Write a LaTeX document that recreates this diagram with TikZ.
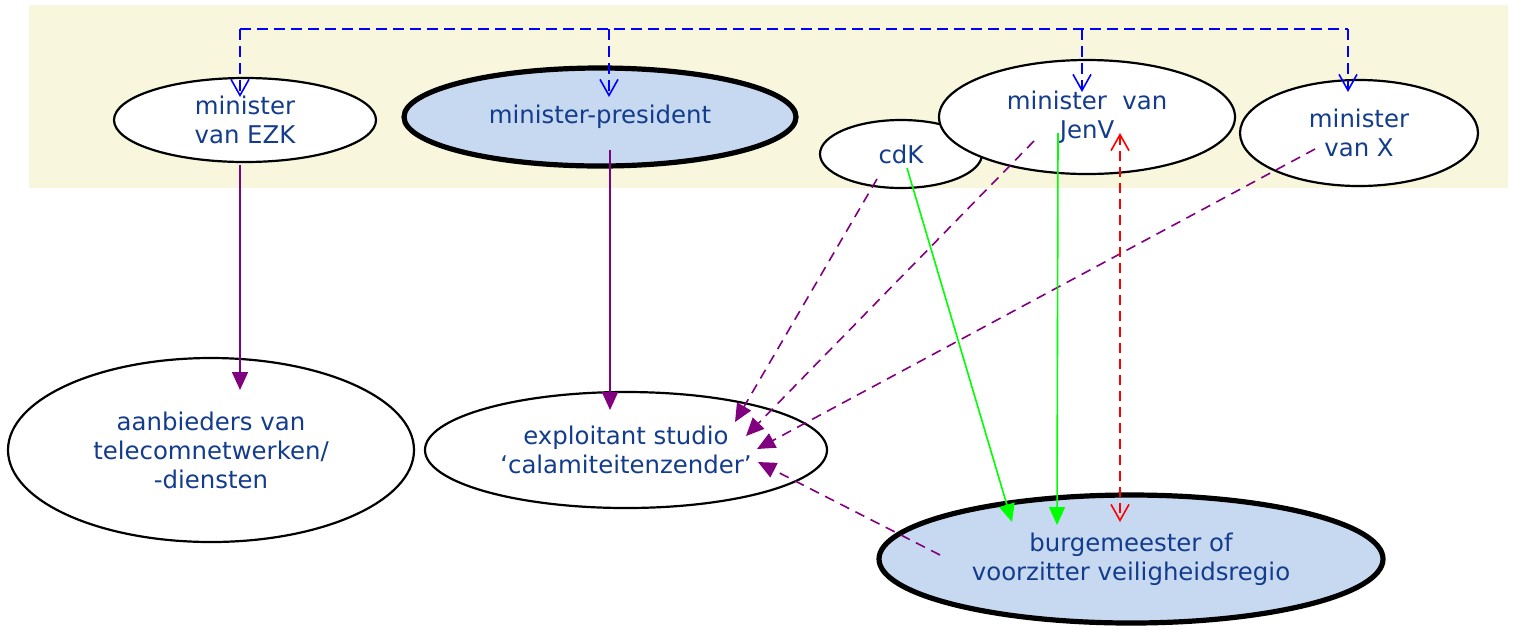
\documentclass[tikz,border=0pt]{standalone}
\usepackage{fontspec}
\setmainfont{DejaVu Sans}
\usepackage{tikz}
\usetikzlibrary{shapes.geometric, arrows.meta}
\definecolor{bandyellow}{RGB}{248,246,220}
\definecolor{boxblue}{RGB}{198,217,240}
\definecolor{textblue}{RGB}{20,60,140}
\definecolor{linepurple}{RGB}{128,0,128}
\tikzset{actor/.style = {ellipse,draw,fill=white,line width=1.1pt,inner sep=0pt,align=center,
                         text=textblue,font=\fontsize{12.2}{14.5}\selectfont},
         lead/.style = {actor,fill=boxblue,line width=2.6pt},
         inform/.style = {blue,line width=0.8pt,dash pattern=on 5.5pt off 3pt,-{Straight Barb[length=8pt,width=9pt]}},
         order/.style = {linepurple,line width=0.8pt,-{Triangle[length=9pt,width=8pt]}},
         advise/.style = {order,dash pattern=on 5pt off 3.5pt},
         support/.style = {green,line width=0.8pt,-{Triangle[length=9pt,width=8pt]}},
         consult/.style = {red,line width=0.8pt,dash pattern=on 5pt off 3pt,
                           {Straight Barb[length=8pt,width=9pt]}-{Straight Barb[length=8pt,width=9pt]}}}

\begin{document}
\begin{tikzpicture}[x=0.5pt,y=-0.5pt]
        \useasboundingbox (0,0) rectangle (1518,628);
        \fill [bandyellow] (29,5) rectangle (1508,188);
        % ministers
        \node [actor, minimum width=131pt, minimum height=42pt] (ezk) at (245,120) {minister\\van EZK};
        \node [lead, minimum width=196pt, minimum height=49pt] (mp) at (600,117) {minister-president};
        \node [actor, minimum width=81pt, minimum height=34pt] (cdk) at (901,154) {cdK};
        \node [actor, minimum width=148pt, minimum height=57pt] (jenv) at (1087,117) {minister~~van\\JenV};
        \node [actor, minimum width=119pt, minimum height=53pt] (minx) at (1359,133) {minister\\van X};
        % executing parties
        \node [actor, minimum width=203pt, minimum height=92pt] (telecom) at (211,450) {aanbieders van\\telecomnetwerken/\\-diensten};
        \node [actor, minimum width=201pt, minimum height=58pt] (studio) at (626,450) {exploitant studio\\`calamiteitenzender'};
        \node [lead, minimum width=252pt, minimum height=64pt] (mayor) at (1131,559) {burgemeester of\\voorzitter veiligheidsregio};
        % coordinates for line ends
        \coordinate (top1) at (240,29);
        \coordinate (top4) at (1348,29);
        \coordinate (ezkin) at (240,97);
        \coordinate (mpin) at (609,97);
        \coordinate (jenvin) at (1082,92);
        \coordinate (xin) at (1348,92);
        \coordinate (ezkout) at (240,165);
        \coordinate (telecomin) at (240,390);
        \coordinate (mpout) at (610,150);
        \coordinate (studioin) at (610,410);
        \coordinate (cdkout1) at (877,179);
        \coordinate (cdkout2) at (907,168);
        \coordinate (jenvout1) at (1034,141);
        \coordinate (jenvout2) at (1058,133);
        \coordinate (xout) at (1315,149);
        \coordinate (mayorout) at (940,555);
        \coordinate (studio1) at (735,422);
        \coordinate (studio2) at (746,436);
        \coordinate (studio3) at (757,449);
        \coordinate (studio4) at (758,462);
        \coordinate (mayor1) at (1012,522);
        \coordinate (mayor2) at (1057,525);
        \coordinate (redtop) at (1120,133);
        \coordinate (redbot) at (1120,522);
        % blue information lines
        \draw [blue, line width=0.8pt, dash pattern=on 5.5pt off 3pt] (top1) -- (top4);
        \draw [inform] (top1) -- (ezkin);
        \draw [inform] (top1 -| mpin) -- (mpin);
        \draw [inform] (top1 -| jenvin) -- (jenvin);
        \draw [inform] (top4) -- (xin);
        % purple lines
        \draw [order] (ezkout) -- (telecomin);
        \draw [order] (mpout) -- (studioin);
        \draw [advise] (cdkout1) -- (studio1);
        \draw [advise] (jenvout1) -- (studio2);
        \draw [advise] (xout) -- (studio3);
        \draw [advise] (mayorout) -- (studio4);
        % green lines
        \draw [support] (cdkout2) -- (mayor1);
        \draw [support] (jenvout2) -- (mayor2);
        % red line
        \draw [consult] (redtop) -- (redbot);
    \end{tikzpicture}
\end{document}
